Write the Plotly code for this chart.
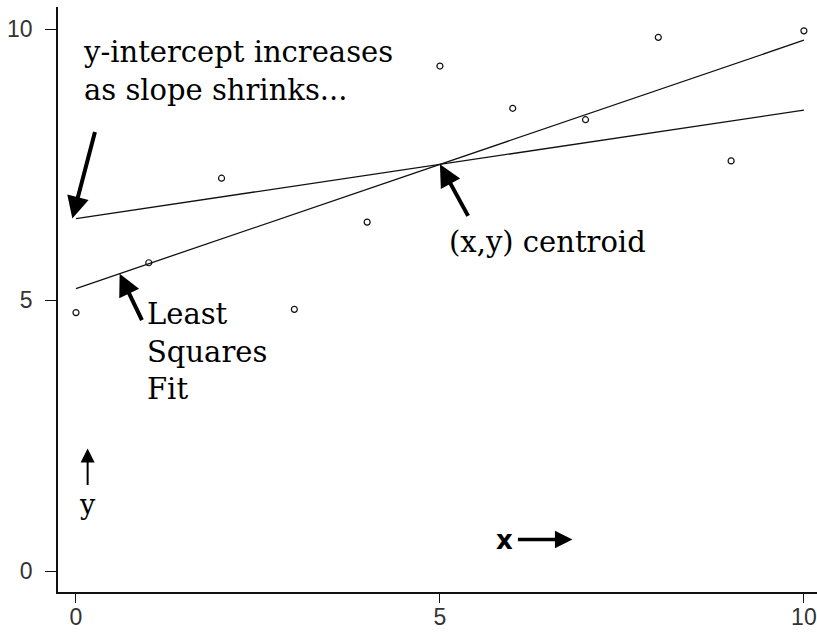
import numpy as np
import plotly.graph_objects as go

# Data
x_vals = [0, 1, 2, 3, 4, 5, 6, 7, 8, 9, 10]
y_vals = [4.77, 5.69, 7.25, 4.83, 6.44, 9.32, 8.54, 8.33, 9.85, 7.57, 9.97]
shrunk_slope = 0.2
x_ticks = [0, 5, 10]
y_ticks = [0, 5, 10]

xa = np.array(x_vals, dtype=float)
ya = np.array(y_vals, dtype=float)
xm, ym = xa.mean(), ya.mean()
ls_slope = ((xa - xm) * (ya - ym)).sum() / ((xa - xm) ** 2).sum()
ls_int = ym - ls_slope * xm
sh_int = ym - shrunk_slope * xm
x_line = [min(x_vals), max(x_vals)]

fig = go.Figure()
fig.add_trace(go.Scatter(x=x_line, y=[ls_int + ls_slope * v for v in x_line],
                         mode="lines", line=dict(color="#111", width=1.3), hoverinfo="skip"))
fig.add_trace(go.Scatter(x=x_line, y=[sh_int + shrunk_slope * v for v in x_line],
                         mode="lines", line=dict(color="#111", width=1.3), hoverinfo="skip"))
fig.add_trace(go.Scatter(x=x_vals, y=y_vals, mode="markers",
                         marker=dict(symbol="circle-open", size=6, color="#111",
                                     line=dict(width=1.2, color="#111"))))

serif = "DejaVu Serif"
txt_font = dict(family=serif, size=29, color="black")
ann = []
# text blocks
ann.append(dict(x=0.07, y=9.22, xref="x", yref="y", text="y-intercept increases<br>as slope shrinks...",
                showarrow=False, xanchor="left", yanchor="middle", align="left", font=txt_font))
ann.append(dict(x=0.95, y=4.05, xref="x", yref="y", text="Least<br>Squares<br>Fit",
                showarrow=False, xanchor="left", yanchor="middle", align="left", font=txt_font))
ann.append(dict(x=5.1, y=6.07, xref="x", yref="y", text="(x,y) centroid",
                showarrow=False, xanchor="left", yanchor="middle", align="left", font=txt_font))
# arrows
arrow_style = dict(showarrow=True, arrowhead=2, arrowsize=1.1, arrowwidth=4, arrowcolor="black", text="")
ann.append(dict(x=-0.05, y=sh_int, xref="x", yref="y", ax=23, ay=-88, **arrow_style))
ann.append(dict(x=0.6, y=ls_int + ls_slope * 0.6, xref="x", yref="y", ax=23, ay=48, **arrow_style))
ann.append(dict(x=xm, y=ym, xref="x", yref="y", ax=29, ay=53, **arrow_style))
# axis direction hints
ann.append(dict(x=0.16, y=2.26, xref="x", yref="y", ax=0, ay=38, showarrow=True, arrowhead=2,
                arrowsize=1.4, arrowwidth=2, arrowcolor="black", text=""))
ann.append(dict(x=0.16, y=1.22, xref="x", yref="y", text="y", showarrow=False,
                font=dict(family=serif, size=27, color="black"), xanchor="center", yanchor="middle"))
ann.append(dict(x=6.82, y=0.58, xref="x", yref="y", ax=-56, ay=0, showarrow=True, arrowhead=2,
                arrowsize=1, arrowwidth=3.5, arrowcolor="black", text=""))
ann.append(dict(x=5.88, y=0.58, xref="x", yref="y", text="<b>x</b>", showarrow=False,
                font=dict(family="DejaVu Sans", size=26, color="black"), xanchor="center", yanchor="middle"))

tick_font = dict(family="Liberation Sans Narrow, Liberation Sans", size=23, color="#333")
fig.update_layout(
    width=817, height=635,
    margin=dict(l=58, r=0, t=7, b=43),
    paper_bgcolor="white", plot_bgcolor="white",
    showlegend=False,
    annotations=ann,
    xaxis=dict(range=[-0.247, 10.18], tickvals=x_ticks, ticktext=[str(t) for t in x_ticks],
               showgrid=False, zeroline=False, showline=True, linecolor="#111", linewidth=1.5,
               ticks="outside", ticklen=9, tickwidth=1.2, tickcolor="#111",
               tickfont=tick_font, ticklabelstandoff=-5, ticklabeloverflow="allow",
               automargin=False),
    yaxis=dict(range=[-0.387, 10.41], tickvals=y_ticks, ticktext=[str(t) for t in y_ticks],
               showgrid=False, zeroline=False, showline=True, linecolor="#111", linewidth=1.5,
               ticks="outside", ticklen=11, tickwidth=1.2, tickcolor="#111",
               tickfont=tick_font, ticklabelstandoff=8, automargin=False),
)
fig.write_html("out.html", config={"displayModeBar": False},
               post_script="document.body.style.margin='0';document.body.style.overflow='hidden';")
